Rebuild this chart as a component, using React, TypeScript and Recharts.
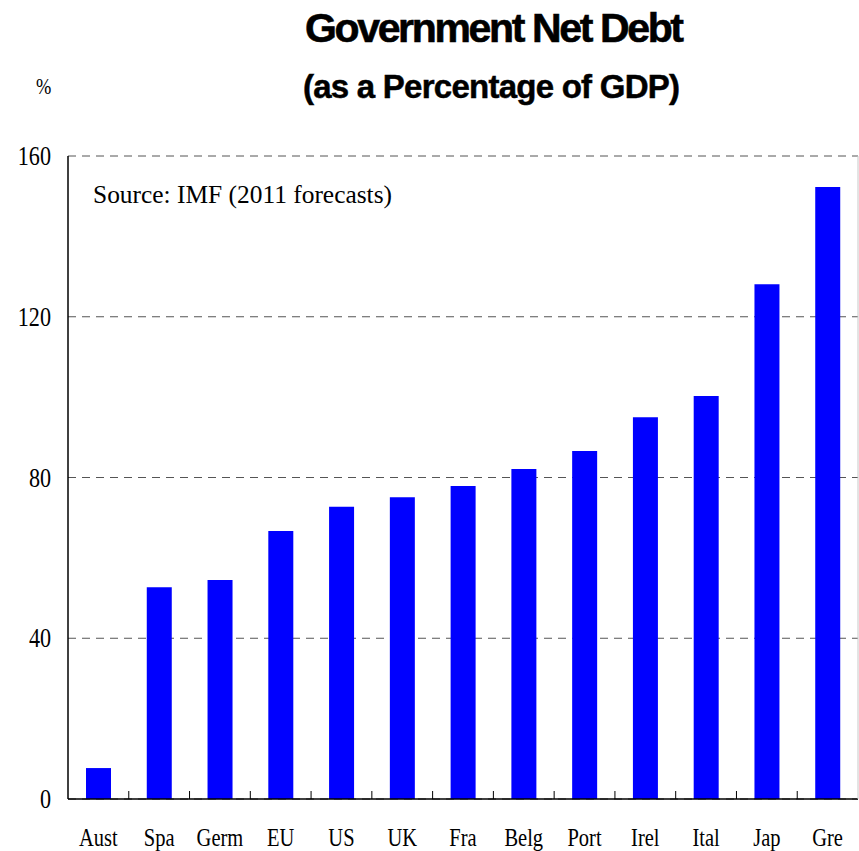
import React from 'react';
import { BarChart, Bar, XAxis, YAxis, CartesianGrid } from 'recharts';

const countries = ['Aust', 'Spa', 'Germ', 'EU', 'US', 'UK', 'Fra', 'Belg', 'Port', 'Irel', 'Ital', 'Jap', 'Gre'];
const netDebt = [7.7, 52.7, 54.5, 66.7, 72.7, 75.1, 77.9, 82.1, 86.6, 95.0, 100.3, 128.1, 152.3];
const yTicks = [0, 40, 80, 120, 160];

const data = countries.map((name, i) => ({ name, debt: netDebt[i] }));

const W = 859;
const H = 851;
const PLOT_LEFT = 68;
const PLOT_RIGHT = 858;
const BAND = (PLOT_RIGHT - PLOT_LEFT) / countries.length;

const serif = '"Liberation Serif", "Times New Roman", serif';
const sans = '"Liberation Sans", Arial, sans-serif';

const XTick = (props: any) => {
  const { x, y, payload, index } = props;
  return (
    <g>
      {index < countries.length - 1 && (
        <line x1={x + BAND / 2} y1={y} x2={x + BAND / 2} y2={y - 8} stroke="#000" strokeWidth={1} />
      )}
      <text
        transform={`translate(${x},${y + 47}) scale(0.82,1)`}
        textAnchor="middle"
        fontFamily={serif}
        fontSize={25}
        fill="#000"
      >
        {payload.value}
      </text>
    </g>
  );
};

const YTick = (props: any) => {
  const { x, y, payload } = props;
  return (
    <text
      transform={`translate(${x},${y}) scale(0.82,1)`}
      textAnchor="end"
      dy="0.34em"
      fontFamily={serif}
      fontSize={27}
      fill="#000"
    >
      {payload.value}
    </text>
  );
};

export default function App() {
  return (
    <div style={{ position: 'absolute', left: 0, top: 0, width: W, height: H, background: '#fff' }}>
      <BarChart
        width={W}
        height={H}
        data={data}
        margin={{ top: 156, right: 0, bottom: 0, left: 0 }}
        barCategoryGap={0}
      >
        <CartesianGrid vertical={false} stroke="#555" strokeDasharray="8 6" />
        <XAxis
          dataKey="name"
          height={52}
          axisLine={{ stroke: '#000', strokeWidth: 1.5 }}
          tickLine={false}
          tickSize={0}
          tickMargin={0}
          interval={0}
          tick={<XTick />}
        />
        <YAxis
          width={PLOT_LEFT}
          domain={[0, 160]}
          ticks={yTicks}
          axisLine={{ stroke: '#000', strokeWidth: 1.5 }}
          tickLine={false}
          tickSize={0}
          tickMargin={17}
          tick={<YTick />}
        />
        <YAxis
          yAxisId="right"
          orientation="right"
          width={1}
          domain={[0, 160]}
          axisLine={{ stroke: '#c8c8c8', strokeWidth: 1 }}
          tickLine={false}
          tick={false}
        />
        <Bar dataKey="debt" fill="#0000ff" barSize={25} isAnimationActive={false} />
      </BarChart>
      <svg
        width={W}
        height={H}
        style={{ position: 'absolute', left: 0, top: 0, pointerEvents: 'none' }}
      >
        <text
          x={305}
          y={42}
          fontFamily={sans}
          fontWeight="bold"
          fontSize={41}
          textLength={379}
          lengthAdjust="spacing"
          stroke="#000"
          strokeWidth={0.6}
          fill="#000"
        >
          Government Net Debt
        </text>
        <text
          x={303}
          y={98}
          fontFamily={sans}
          fontWeight="bold"
          fontSize={33}
          textLength={377}
          lengthAdjust="spacing"
          stroke="#000"
          strokeWidth={0.5}
          fill="#000"
        >
          (as a Percentage of GDP)
        </text>
        <text
          transform="translate(36,94) scale(0.8,1)"
          fontFamily={serif}
          fontSize={23}
          fill="#000"
        >
          %
        </text>
        <text
          x={93}
          y={203}
          fontFamily={serif}
          fontSize={26}
          textLength={299}
          lengthAdjust="spacingAndGlyphs"
          fill="#000"
        >
          Source: IMF (2011 forecasts)
        </text>
      </svg>
    </div>
  );
}
